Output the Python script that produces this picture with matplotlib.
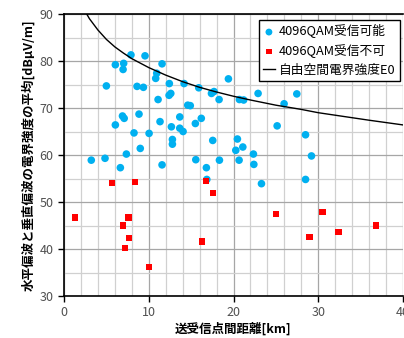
import matplotlib
matplotlib.use('Agg')
import matplotlib.pyplot as plt
from matplotlib.ticker import MultipleLocator

plt.rcParams['font.family'] = ['Noto Sans CJK JP', 'DejaVu Sans']

# 4096QAM受信可能 (距離km, 電界強度dBμV/m)
ok_x = [7.9, 9.56, 6.06, 7.04, 6.97, 11.57, 10.94, 10.82, 5.0, 8.62, 9.37, 12.43,
        14.17, 12.6, 12.4, 11.1, 14.6, 14.9, 6.9, 7.1, 8.85, 6.06, 11.33, 13.66,
        12.67, 13.66, 14.05, 8.26, 10.04, 12.79, 12.79, 9.0, 15.9, 17.4, 17.7, 18.3,
        19.4, 22.9, 20.7, 21.2, 16.2, 15.5, 17.55, 20.46, 20.27, 21.1, 22.35, 15.55,
        18.34, 20.66, 22.4, 11.57, 16.8, 23.3, 3.22, 4.84, 6.65, 7.36, 16.85, 29.2,
        28.5, 27.47, 25.97, 25.15, 28.5]
ok_y = [81.3, 81.1, 79.2, 79.5, 78.2, 79.4, 77.4, 76.3, 74.7, 74.6, 74.4, 75.2,
        75.2, 73.1, 72.7, 71.8, 70.6, 70.5, 68.3, 67.8, 68.7, 66.4, 67.1, 68.1,
        66.0, 65.7, 65.0, 64.7, 64.6, 63.3, 62.3, 61.4, 74.3, 73.1, 73.5, 71.8,
        76.2, 73.1, 71.8, 71.7, 67.8, 66.7, 63.1, 63.4, 61.0, 61.7, 60.2, 59.0,
        58.9, 58.9, 58.0, 57.9, 57.3, 53.9, 58.9, 59.3, 57.3, 60.2, 54.8, 59.8,
        54.8, 73.0, 70.9, 66.2, 64.3]

# 4096QAM受信不可
ng_x = [5.67, 8.42, 16.73, 17.55, 1.3, 7.6, 6.93, 7.64, 7.16, 16.26, 10.0,
        25.0, 30.5, 28.96, 32.4, 36.8]
ng_y = [54.0, 54.3, 54.4, 51.9, 46.7, 46.7, 45.0, 42.3, 40.2, 41.6, 36.2,
        47.4, 47.9, 42.5, 43.6, 45.0]

# 自由空間電界強度E0 (読み取り値)
e0_x = [2.68, 3, 4, 5, 6, 7, 8, 10, 12, 14, 16, 18, 20, 22, 25, 28, 30, 33, 36, 40]
e0_y = [90.0, 89.0, 86.6, 84.6, 83.0, 81.7, 80.5, 78.6, 77.0, 75.6, 74.4, 73.4,
        72.5, 71.7, 70.6, 69.7, 69.0, 68.2, 67.4, 66.4]

fig = plt.figure(figsize=(4.04, 3.38), dpi=100)
ax = fig.add_axes([64/404, 42/338, 339/404, 282/338])

ax.scatter(ok_x, ok_y, s=30, color='#00B0F0', edgecolors='none', label='4096QAM受信可能', zorder=3)
ax.scatter(ng_x, ng_y, s=20, marker='s', color='#FF0000', edgecolors='none', label='4096QAM受信不可', zorder=4)
ax.plot(e0_x, e0_y, color='black', lw=1.0, label='自由空間電界強度E0', zorder=5)

ax.set_xlim(0, 40)
ax.set_ylim(30, 90)
ax.xaxis.set_major_locator(MultipleLocator(10))
ax.xaxis.set_minor_locator(MultipleLocator(2))
ax.yaxis.set_major_locator(MultipleLocator(10))
ax.yaxis.set_minor_locator(MultipleLocator(5))
ax.grid(which='major', color='#a6a6a6', lw=0.9, zorder=0)
ax.grid(which='minor', color='#d0d0d0', lw=0.9, zorder=0)
ax.set_axisbelow(True)
ax.tick_params(which='minor', length=0)
ax.tick_params(which='major', length=4, width=1, color='black', labelsize=9, labelcolor='#505050')
for s in ['left', 'bottom', 'top']:
    ax.spines[s].set_color('black')
    ax.spines[s].set_linewidth(1.2)
ax.spines['right'].set_visible(False)

ax.set_xlabel('送受信点間距離[km]', fontsize=9, fontweight='bold', labelpad=2)
ax.set_ylabel('水平偏波と垂直偏波の電界強度の平均[dBμV/m]', fontsize=9, fontweight='bold', labelpad=3)

leg = ax.legend(loc='upper right', bbox_to_anchor=(0.99, 0.979), borderaxespad=0, fontsize=9.2,
                fancybox=False, framealpha=1, edgecolor='black', handlelength=0.9,
                handletextpad=0.3, borderpad=0.35, labelspacing=0.45, markerscale=0.9)
leg.get_frame().set_linewidth(1.0)

fig.savefig('out.png', dpi=100)
